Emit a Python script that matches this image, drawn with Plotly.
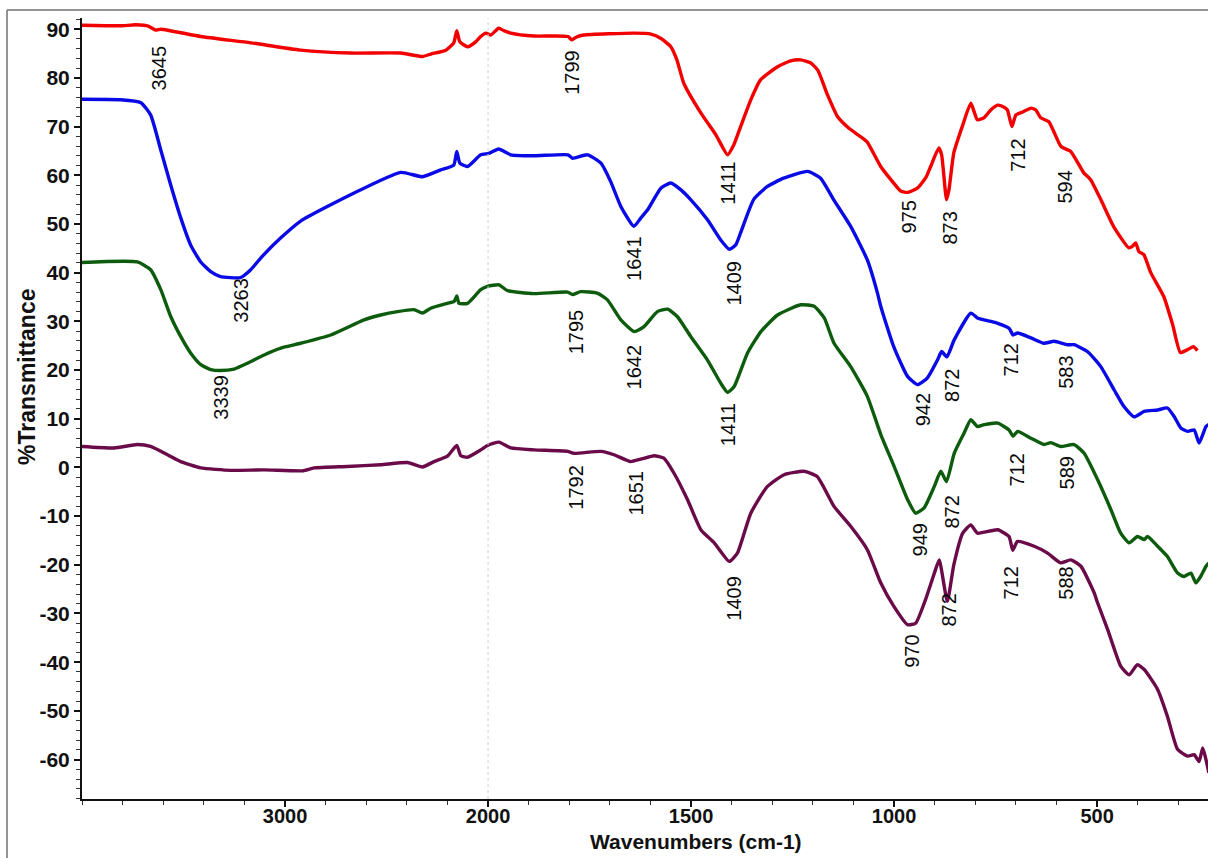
import plotly.graph_objects as go

# ---- FTIR spectra (wavenumber in cm-1, %Transmittance) ----
WN_RED = [4000, 3809, 3735, 3671, 3637, 3612, 3415, 3169, 2923, 2677, 2430, 2323, 2282, 2208,
          2169, 2154, 2139, 2101, 2061, 2036, 2011, 1993, 1974, 1961, 1944, 1887, 1803, 1794,
          1782, 1764, 1641, 1599, 1574, 1550, 1535, 1518, 1476, 1439, 1410, 1395, 1378, 1353,
          1329, 1287, 1255, 1230, 1206, 1188, 1164, 1139, 1112, 1082, 1067, 1033, 1008, 983,
          966, 942, 922, 910, 890, 883, 871, 865, 853, 831, 811, 795, 779, 762, 745, 730, 721,
          710, 700, 683, 663, 651, 639, 619, 589, 565, 533, 516, 491, 459, 422, 412, 405, 397,
          385, 368, 336, 314, 295, 277, 263, 253]
T_RED = [90.8, 90.7, 90.9, 90.6, 89.8, 90.0, 88.5, 87.2, 85.7, 85.1, 85.1, 84.4, 84.9, 85.7,
         87.2, 89.7, 87.4, 86.4, 87.4, 88.5, 89.2, 88.8, 90.2, 89.7, 89.2, 88.6, 88.5, 87.8,
         88.4, 88.8, 89.2, 89.0, 88.1, 86.4, 83.7, 78.9, 72.8, 68.3, 64.2, 66.2, 70.0, 75.5,
         79.6, 82.3, 83.5, 83.7, 83.1, 81.6, 76.5, 72.0, 69.7, 67.9, 66.9, 61.8, 59.1, 56.7,
         56.5, 57.4, 59.5, 61.8, 65.6, 64.2, 55.0, 57.0, 64.6, 70.3, 74.8, 71.4, 71.8, 73.4,
         74.4, 74.0, 73.4, 70.0, 72.4, 73.0, 73.8, 73.4, 71.8, 71.0, 65.9, 64.9, 60.5, 59.1,
         55.0, 49.4, 45.1, 45.5, 46.1, 44.3, 43.7, 40.0, 35.1, 29.3, 23.6, 24.2, 24.8, 24.0]

WN_BLUE = [4000, 3809, 3710, 3662, 3612, 3563, 3514, 3465, 3415, 3366, 3318, 3219, 3169, 3120,
           3022, 2923, 2677, 2430, 2323, 2233, 2169, 2154, 2139, 2101, 2036, 1998, 1974, 1944,
           1887, 1803, 1792, 1755, 1722, 1698, 1673, 1641, 1624, 1607, 1574, 1550, 1525, 1501,
           1460, 1427, 1406, 1390, 1378, 1346, 1312, 1272, 1213, 1181, 1149, 1107, 1066, 1041,
           1033, 1001, 967, 942, 918, 893, 883, 870, 852, 811, 795, 779, 745, 717, 707, 696,
           663, 631, 606, 573, 557, 524, 491, 458, 434, 409, 384, 351, 327, 310, 294, 277, 261,
           249, 240, 232, 225]
T_BLUE = [75.6, 75.5, 74.9, 72.4, 65.2, 58.0, 51.3, 45.7, 42.2, 40.2, 39.2, 39.0, 40.6, 43.0,
          47.1, 50.6, 56.0, 60.6, 59.7, 61.1, 62.1, 64.9, 62.5, 61.8, 64.2, 64.5, 65.4, 64.2,
          64.0, 64.2, 63.5, 64.2, 62.5, 58.7, 53.6, 49.5, 51.2, 52.9, 57.4, 58.4, 57.0, 55.0,
          50.9, 46.7, 44.8, 45.7, 48.2, 55.0, 57.7, 59.4, 60.8, 59.4, 55.0, 49.5, 42.6, 35.8,
          33.1, 24.8, 18.7, 17.0, 18.4, 22.1, 23.8, 22.7, 26.2, 31.7, 30.7, 30.3, 29.6, 28.6,
          27.2, 27.6, 26.6, 25.5, 25.9, 25.2, 25.2, 23.8, 20.7, 15.9, 12.5, 10.4, 11.5, 11.8,
          12.2, 10.4, 8.1, 7.4, 7.7, 5.0, 6.7, 8.4, 8.8]

WN_GREEN = [4000, 3727, 3662, 3612, 3563, 3514, 3465, 3415, 3366, 3318, 3251, 3185, 3103, 3021,
            2923, 2775, 2611, 2529, 2446, 2365, 2323, 2282, 2200, 2167, 2154, 2143, 2101, 2036,
            2003, 1973, 1952, 1887, 1804, 1792, 1772, 1731, 1706, 1673, 1640, 1616, 1583, 1558,
            1534, 1501, 1460, 1427, 1410, 1394, 1361, 1328, 1287, 1230, 1197, 1172, 1148, 1107,
            1066, 1033, 1000, 967, 947, 926, 901, 885, 871, 852, 828, 811, 795, 778, 745, 717,
            707, 696, 663, 631, 614, 590, 557, 532, 499, 466, 442, 421, 401, 384, 376, 351, 327,
            302, 286, 269, 257, 245, 232, 225]
T_GREEN = [42.1, 42.2, 40.6, 36.5, 31.0, 26.9, 23.5, 21.1, 20.1, 19.9, 20.2, 21.4, 23.1, 24.5,
           25.5, 27.2, 30.3, 31.3, 32.0, 32.4, 31.7, 32.7, 33.7, 34.1, 35.2, 33.7, 33.7, 36.5,
           37.2, 37.5, 36.3, 35.7, 36.0, 35.5, 36.1, 35.8, 34.4, 30.3, 27.9, 28.9, 32.0, 32.5,
           31.0, 26.9, 22.1, 17.3, 15.4, 16.6, 23.5, 27.9, 31.3, 33.4, 33.1, 30.7, 25.5, 20.7,
           14.6, 6.8, 0.2, -6.6, -9.4, -8.3, -3.9, -0.8, -2.9, 2.9, 7.0, 9.8, 8.4, 8.8, 9.1, 7.7,
           6.4, 7.4, 6.0, 4.7, 5.1, 4.3, 4.7, 2.9, -2.5, -8.7, -13.5, -15.5, -14.2, -14.8, -14.2,
           -16.2, -18.3, -21.7, -22.4, -21.7, -23.7, -22.4, -20.3, -19.6]

WN_PURPLE = [4000, 3842, 3727, 3662, 3579, 3514, 3415, 3267, 3103, 2914, 2857, 2693, 2529, 2397,
             2323, 2266, 2200, 2154, 2134, 2101, 2036, 2003, 1973, 1944, 1887, 1804, 1788, 1722,
             1690, 1649, 1624, 1591, 1567, 1542, 1509, 1476, 1443, 1406, 1386, 1353, 1312, 1271,
             1222, 1189, 1148, 1107, 1066, 1033, 1001, 967, 947, 922, 902, 889, 869, 853, 831,
             811, 795, 745, 717, 708, 696, 655, 622, 590, 565, 540, 507, 499, 474, 442, 421, 401,
             384, 351, 327, 302, 277, 261, 249, 240, 232, 225]
T_PURPLE = [4.3, 4.0, 4.7, 4.3, 2.6, 1.2, -0.1, -0.6, -0.5, -0.7, -0.1, 0.2, 0.55, 1.0,
            0.1, 1.2, 2.3, 4.5, 2.4, 2.1, 3.6, 4.5, 5.2, 4.0, 3.6, 3.3, 2.9, 3.3,
            2.6, 1.2, 1.7, 2.4, 1.9, -1.2, -6.6, -12.8, -15.5, -19.3, -17.6, -9.4, -3.9, -1.5,
            -0.8, -1.9, -8.0, -12.1, -16.9, -23.7, -28.5, -32.3, -32.0, -27.0, -22.0, -19.0,
            -27.5, -20.0, -13.5, -11.8, -13.5, -12.8, -14.2, -17.0, -15.2, -16.2, -17.6, -19.6,
            -19.0, -20.3, -25.8, -27.8, -33.3, -40.8, -42.6, -40.5, -41.5, -45.6, -51.1, -57.9,
            -59.3, -59.0, -60.4, -57.6, -60.0, -62.7]

# ---- peak labels: text, wavenumber position, %T position ----
LBL_RED = ["3645", "1799", "1411", "975", "873", "712", "594"]
LBL_RED_WN = [3622, 1794, 1410, 964, 863, 695, 580]
LBL_RED_T = [82.1, 81.2, 58.4, 51.5, 49.2, 64.2, 57.6]

LBL_BLUE = ["3263", "1641", "1409", "942", "872", "712", "583"]
LBL_BLUE_WN = [3218, 1641, 1395, 928, 858, 713, 577]
LBL_BLUE_T = [34.4, 43.0, 37.9, 11.8, 16.9, 22.1, 19.6]

LBL_GREEN = ["3339", "1795", "1642", "1411", "949", "872", "712", "589"]
LBL_GREEN_WN = [3316, 1784, 1641, 1410, 934, 858, 698, 575]
LBL_GREEN_T = [14.5, 27.9, 20.7, 8.8, -14.8, -9.1, -0.5, -1.1]

LBL_PURPLE = ["1792", "1651", "1409", "970", "872", "712", "588"]
LBL_PURPLE_WN = [1784, 1636, 1395, 955, 865, 713, 577]
LBL_PURPLE_T = [-4.0, -5.2, -26.8, -37.8, -29.2, -23.7, -23.7]

X_TICKS = [3000, 2000, 1500, 1000, 500]
Y_TICKS = list(range(-60, 100, 10))


def axis_pos(wn):
    """Scale-break transform: the region above 2000 cm-1 is drawn at half scale."""
    return wn if wn <= 2000 else 2000 + (wn - 2000) / 2.0


def conv(seq):
    return [axis_pos(w) for w in seq]


FONT = "Liberation Sans, Arial, sans-serif"

fig = go.Figure()

series = [
    (WN_RED, T_RED, "#f20000"),
    (WN_BLUE, T_BLUE, "#0a0ae6"),
    (WN_GREEN, T_GREEN, "#0d5c0d"),
    (WN_PURPLE, T_PURPLE, "#6a0a48"),
]
for wn, tr, col in series:
    fig.add_trace(go.Scatter(x=conv(wn), y=tr, mode="lines",
                             line=dict(color=col, width=3.4, shape="spline", smoothing=0.5),
                             showlegend=False, hoverinfo="skip"))

annotations = []
for texts, wns, ts in [(LBL_RED, LBL_RED_WN, LBL_RED_T),
                       (LBL_BLUE, LBL_BLUE_WN, LBL_BLUE_T),
                       (LBL_GREEN, LBL_GREEN_WN, LBL_GREEN_T),
                       (LBL_PURPLE, LBL_PURPLE_WN, LBL_PURPLE_T)]:
    for txt, w, t in zip(texts, wns, ts):
        annotations.append(dict(x=axis_pos(w), y=t, xref="x", yref="y", text=txt,
                                showarrow=False, textangle=-90,
                                xanchor="center", yanchor="middle",
                                font=dict(family=FONT, size=20, color="#0a0a0a")))

# axis titles
annotations.append(dict(x=0.545, y=-0.0545, xref="paper", yref="paper",
                        text="<b>Wavenumbers (cm-1)</b>", showarrow=False,
                        xanchor="center", yanchor="middle",
                        font=dict(family=FONT, size=21, color="#111111")))
annotations.append(dict(x=-0.0488, y=0.5405, xref="paper", yref="paper",
                        text="<b>%Transmittance</b>", showarrow=False, textangle=-90,
                        xanchor="center", yanchor="middle",
                        font=dict(family=FONT, size=23, color="#111111")))

shapes = [
    # scale-break marker at 2000 cm-1
    dict(type="line", xref="x", yref="paper", x0=2000, x1=2000, y0=0, y1=1,
         line=dict(color="#d0d0d0", width=1, dash="dot")),
    # outer frame
    dict(type="line", xref="paper", yref="paper", x0=-0.0666, x1=-0.0666, y0=-0.2, y1=1.0102,
         line=dict(color="#707070", width=1.5)),
    dict(type="line", xref="paper", yref="paper", x0=-0.0666, x1=1.2, y0=1.0102, y1=1.0102,
         line=dict(color="#707070", width=1.5)),
]

fig.update_layout(
    width=1208, height=858,
    margin=dict(l=82, r=0, t=18, b=59),
    paper_bgcolor="white", plot_bgcolor="white",
    annotations=annotations, shapes=shapes,
    showlegend=False,
    xaxis=dict(range=[3000, 227], tickmode="array",
               tickvals=[axis_pos(v) for v in X_TICKS],
               ticktext=[str(v) for v in X_TICKS],
               showgrid=False, zeroline=False,
               showline=True, linecolor="#111111", linewidth=2,
               ticks="outside", ticklen=6, tickwidth=1.5, tickcolor="#111111",
               ticklabelstandoff=-8,
               tickfont=dict(family=FONT, size=20, color="#111111", weight="bold"),
               minor=dict(tickmode="linear", tick0=0, dtick=100, ticks="outside",
                          ticklen=4, tickwidth=1, tickcolor="#333333", showgrid=False)),
    yaxis=dict(range=[-68.1, 92.3], tickmode="array", tickvals=Y_TICKS,
               ticktext=[str(v) for v in Y_TICKS],
               showgrid=False, zeroline=False,
               showline=True, linecolor="#111111", linewidth=2,
               ticks="outside", ticklen=6, tickwidth=1.5, tickcolor="#111111",
               tickfont=dict(family=FONT, size=21, color="#111111", weight="bold"),
               minor=dict(tickmode="linear", tick0=0, dtick=2, ticks="outside",
                          ticklen=4, tickwidth=1, tickcolor="#333333", showgrid=False)),
)

fig.write_html("out.html")
